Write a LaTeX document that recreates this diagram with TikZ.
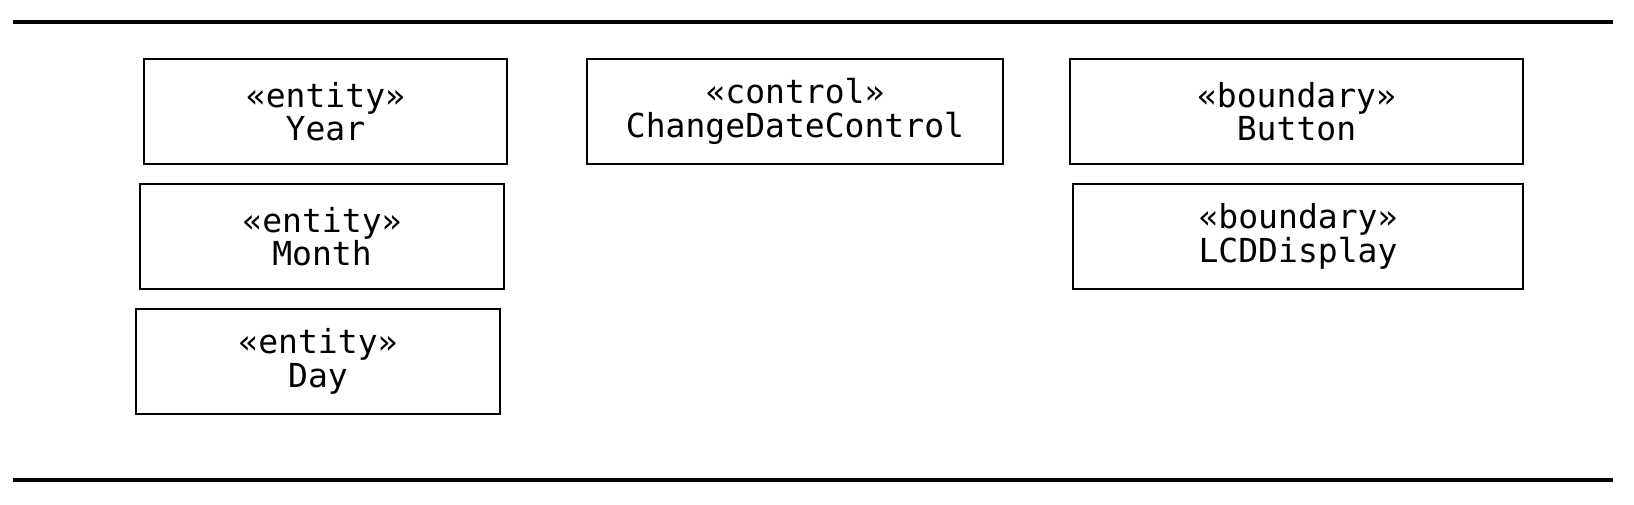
\documentclass[tikz,border=0pt]{standalone}
\usepackage{fontspec}
\newfontfamily\umlfont{DejaVu Sans Mono}
\newcommand\umltext{\umlfont\fontsize{9.4pt}{9.5pt}\selectfont\lineskiplimit=-5pt\relax}
\begin{document}
\begin{tikzpicture}[
		cls/.style={draw, line width=0.65pt, rectangle, minimum height=1.05cm, align=center, inner sep=0pt,
			font=\umltext}
	]
		\useasboundingbox (0,0) rectangle (16.34,-5.04);
		
		% frame lines
		\draw[line width=1.25pt] (0.135,-0.22) -- (16.13,-0.22);
		\draw[line width=1.25pt] (0.135,-4.80) -- (16.13,-4.80);
		
		% entities
		\node[cls, minimum width=3.63cm] (year) at (3.255,-1.115) {«entity»\\Year};
		\node[cls, minimum width=3.64cm] (month) at (3.22,-2.365) {«entity»\\Month};
		\node[cls, minimum width=3.635cm] (day) at (3.18,-3.615) {«entity»\\Day};
		
		% control
		\node[cls, minimum width=4.16cm] (changedate) at (7.95,-1.115) {«control»\\ChangeDateControl};
		
		% boundaries
		\node[cls, minimum width=4.53cm] (button) at (12.965,-1.115) {«boundary»\\Button};
		\node[cls, minimum width=4.50cm] (lcd) at (12.98,-2.365) {«boundary»\\LCDDisplay};
	\end{tikzpicture}
\end{document}
